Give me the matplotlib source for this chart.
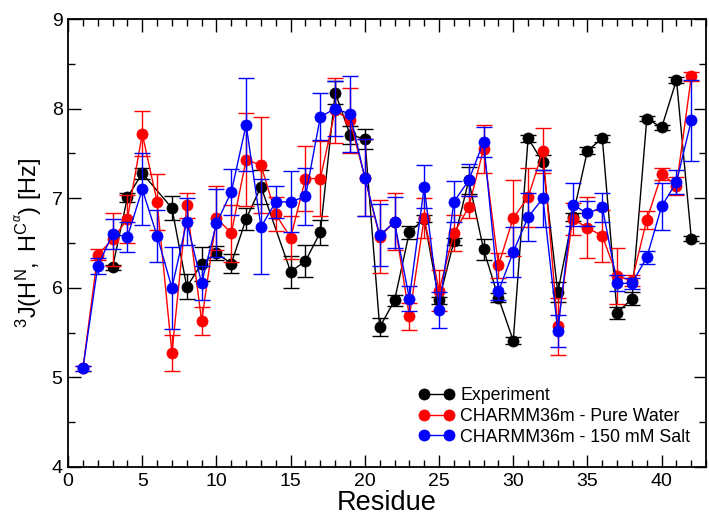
import numpy as np
import matplotlib
matplotlib.use("Agg")
import matplotlib.pyplot as plt
from matplotlib.ticker import MultipleLocator
from matplotlib.lines import Line2D

plt.rcParams['font.family'] = ['Liberation Sans', 'DejaVu Sans']
plt.rcParams['mathtext.fontset'] = 'custom'
plt.rcParams['mathtext.rm'] = 'Liberation Sans'
plt.rcParams['mathtext.it'] = 'Liberation Sans:italic'
plt.rcParams['mathtext.bf'] = 'Liberation Sans:bold'

residues = list(range(1, 43))

# Experimental 3J couplings (NaN where no measurement exists)
nan = np.nan
exp_j = [nan, nan, 6.23, 7.01, 7.28, nan, 6.89, 6.01, 6.27, 6.39,
         6.27, 6.77, 7.13, nan, 6.18, 6.30, 6.62, 8.18, 7.71, 7.66,
         5.56, 5.86, 6.62, 6.77, 5.86, 6.52, 7.20, 6.43, 5.89, 5.41,
         7.67, 7.40, 5.95, 6.79, 7.53, 7.67, 5.72, 5.88, 7.89, 7.79,
         8.32, 6.55]
exp_err = [nan, nan, 0.03, 0.05, 0.06, nan, 0.13, 0.14, 0.19, 0.08,
           0.11, 0.12, 0.19, nan, 0.18, 0.18, 0.14, 0.13, 0.10, 0.11,
           0.10, 0.06, 0.07, 0.04, 0.04, 0.04, 0.15, 0.12, 0.05, 0.04,
           0.04, 0.08, 0.11, 0.04, 0.04, 0.04, 0.07, 0.07, 0.03, 0.03,
           0.03, 0.03]

# CHARMM36m, pure water
water_j = [5.10, 6.37, 6.54, 6.77, 7.72, 6.96, 5.27, 6.92, 5.63, 6.78,
           6.61, 7.43, 7.37, 6.82, 6.56, 7.22, 7.22, 7.98, 7.87, 7.23,
           6.57, 6.74, 5.68, 6.78, 5.97, 6.61, 6.90, 7.55, 6.25, 6.78,
           7.01, 7.53, 5.57, 6.77, 6.67, 6.58, 6.13, 6.08, 6.76, 7.27,
           7.14, 8.36]
water_err = [0.03, 0.06, 0.30, 0.27, 0.25, 0.31, 0.20, 0.14, 0.16, 0.36,
             0.32, 0.52, 0.54, 0.19, 0.24, 0.36, 0.42, 0.36, 0.36, 0.43,
             0.41, 0.32, 0.15, 0.22, 0.23, 0.20, 0.12, 0.27, 0.14, 0.42,
             0.33, 0.25, 0.32, 0.18, 0.34, 0.29, 0.31, 0.06, 0.10, 0.07,
             0.10, 0.05]

# CHARMM36m, 150 mM salt
salt_j = [5.10, 6.24, 6.60, 6.57, 7.10, 6.58, 6.00, 6.74, 6.05, 6.72,
          7.07, 7.82, 6.68, 6.96, 6.96, 7.02, 7.91, 8.00, 7.94, 7.23,
          6.59, 6.73, 5.88, 7.13, 5.75, 6.96, 7.20, 7.63, 5.96, 6.40,
          6.79, 7.00, 5.52, 6.93, 6.83, 6.90, 6.05, 6.05, 6.34, 6.91,
          7.18, 7.87]
salt_err = [0.03, 0.09, 0.17, 0.17, 0.40, 0.29, 0.46, 0.26, 0.19, 0.38,
            0.26, 0.52, 0.53, 0.18, 0.34, 0.32, 0.26, 0.31, 0.42, 0.43,
            0.35, 0.28, 0.14, 0.24, 0.20, 0.23, 0.18, 0.17, 0.10, 0.28,
            0.27, 0.32, 0.18, 0.24, 0.14, 0.16, 0.09, 0.06, 0.07, 0.26,
            0.13, 0.45]

series = [
    ("Experiment", exp_j, exp_err, "black"),
    ("CHARMM36m - Pure Water", water_j, water_err, "#ff0000"),
    ("CHARMM36m - 150 mM Salt", salt_j, salt_err, "#0000ff"),
]

fig = plt.figure(figsize=(7.09, 5.16), dpi=100)
ax = fig.add_axes([0.096, 0.095, 0.9, 0.868])

x = np.array(residues, dtype=float)
handles = []
for label, vals, errs, color in series:
    v = np.array(vals, dtype=float)
    e = np.array(errs, dtype=float)
    m = ~np.isnan(v)
    ax.errorbar(x[m], v[m], yerr=e[m], fmt='none', ecolor=color,
                elinewidth=1.0, capsize=5.5, capthick=1.0)
    ax.plot(x[m], v[m], color=color, linewidth=1.0, marker='o',
            markersize=8, markeredgecolor=color, markerfacecolor=color,
            markeredgewidth=0.5)
    handles.append(Line2D([], [], color=color, linewidth=1.0, marker='o',
                          markersize=8, markeredgecolor=color,
                          markerfacecolor=color, markeredgewidth=0.5))

ax.set_xlim(0, 43)
ax.set_ylim(4, 9)
ax.xaxis.set_major_locator(MultipleLocator(5))
ax.xaxis.set_minor_locator(MultipleLocator(1))
ax.yaxis.set_major_locator(MultipleLocator(1))
ax.yaxis.set_minor_locator(MultipleLocator(0.5))
ax.tick_params(which='both', direction='in', top=True, right=True,
               width=1.0, labelsize=14, pad=4)
ax.tick_params(which='major', length=9)
ax.tick_params(which='minor', length=5)
for s in ax.spines.values():
    s.set_linewidth(1.3)

ax.set_xlabel("Residue", fontsize=19.5, labelpad=0.5)
ax.set_ylabel(r'$^{3}\mathrm{J(H}^{\mathrm{N}}\mathrm{,\ H}^{\mathrm{C}^{\alpha}}\mathrm{)\ [Hz]}$',
              fontsize=17, labelpad=5)

labels = [s[0] for s in series]
ax.legend(handles, labels, loc='lower right', bbox_to_anchor=(1.0, 0.012),
          frameon=False, fontsize=12.8, numpoints=2, handlelength=2.0,
          handletextpad=0.35, labelspacing=0.2)

fig.savefig("out.png", dpi=100)
